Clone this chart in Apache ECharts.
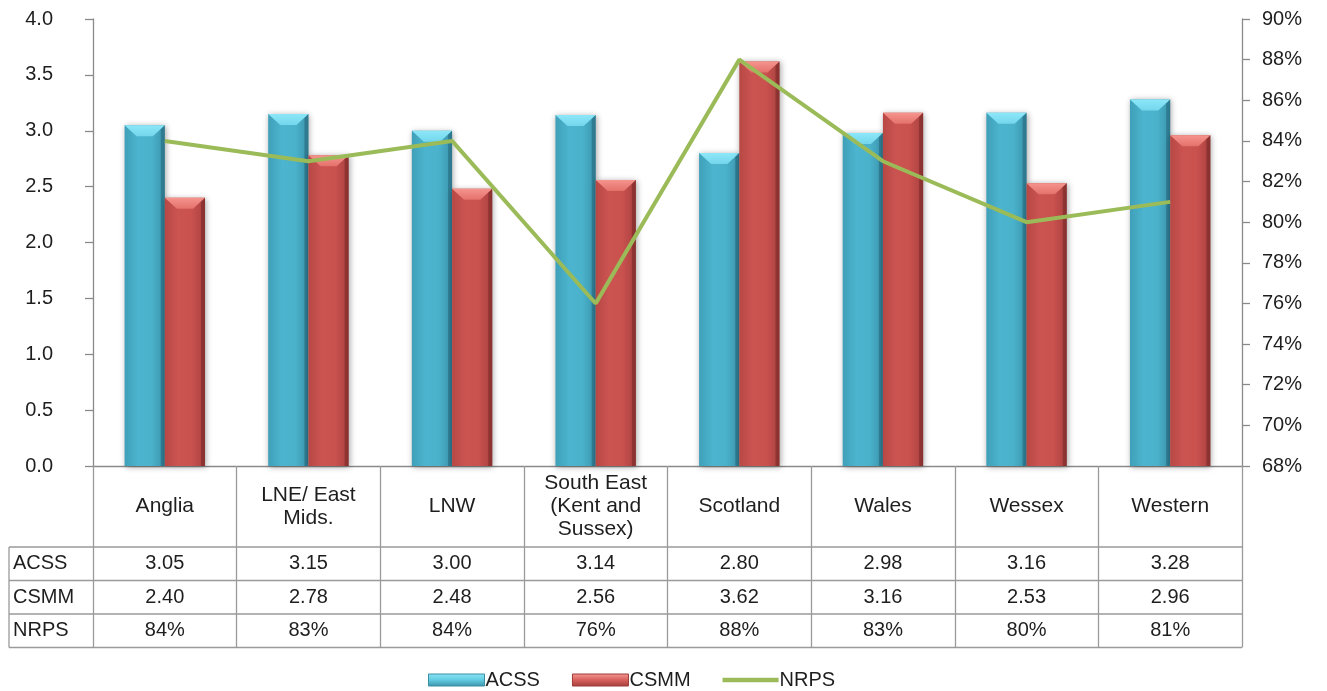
<!DOCTYPE html>
<html>
<head>
<meta charset="utf-8">
<script src="https://cdn.jsdelivr.net/npm/echarts@6/dist/echarts.min.js"></script>
<style>
  html, body { margin: 0; padding: 0; background: #fff; }
  #chart { width: 1327px; height: 691px; }
</style>
</head>
<body>
<div id="chart"></div>
<script>
// Regional scores: two bar measures (left axis) and a percentage line (right axis)
const categories = ['Anglia', 'LNE/ East\nMids.', 'LNW', 'South East\n(Kent and\nSussex)', 'Scotland', 'Wales', 'Wessex', 'Western'];
const acss = [3.05, 3.15, 3.00, 3.14, 2.80, 2.98, 3.16, 3.28];
const csmm = [2.40, 2.78, 2.48, 2.56, 3.62, 3.16, 2.53, 2.96];
const nrps = [84, 83, 84, 76, 88, 83, 80, 81];
const rowNames = ['ACSS', 'CSMM', 'NRPS'];

// Layout
const W = 1327, H = 691;
const PLOT_LEFT = 93, PLOT_RIGHT = 1242, PLOT_TOP = 19, PLOT_BOTTOM = 466;
const TABLE_LEFT = 9;
const HEADER_H = 81;          // category-name row
const ROW_H = 33.5;           // data rows
const BAR_RATIO = 0.28;       // bar width as a share of the category band
const FONT = '"Liberation Sans", Arial, sans-serif';
const FONT_SIZE = 20;
const TEXT = '#1e1e1e';
const GRID_LINE = '#9a9a9a';

const rowTops = [0, 1, 2, 3].map(i => PLOT_BOTTOM + HEADER_H + i * ROW_H);
const rowCenterOffset = i => HEADER_H + ROW_H * (i + 0.5);

function grad(x2, y2, stops) {
  return new echarts.graphic.LinearGradient(0, 0, x2, y2, stops.map((c, i) => ({ offset: i / (stops.length - 1), color: c })));
}

// Bevelled bar drawn through the axis scales; side -1 = left of the tick, +1 = right
function bevelBar(side, body, light, edge) {
  return function (params, api) {
    const cat = api.value(0), v = api.value(1);
    const top = api.coord([cat, v]);
    const base = api.coord([cat, 0]);
    const w = api.size([1, 0])[0] * BAR_RATIO;
    const x0 = side < 0 ? top[0] - w : top[0];
    const x1 = x0 + w;
    const y0 = top[1], y1 = base[1];
    const bev = 11, inset = 12;
    return {
      type: 'group',
      children: [
        { type: 'rect', shape: { x: x0, y: y0, width: w, height: y1 - y0 },
          style: { fill: body, shadowBlur: 6, shadowColor: 'rgba(0,0,0,0.35)', shadowOffsetX: 1, shadowOffsetY: 1 } },
        { type: 'polygon', shape: { points: [[x0, y0], [x1, y0], [x1 - inset, y0 + bev], [x0 + inset, y0 + bev]] },
          style: { fill: light } },
        { type: 'polygon', shape: { points: [[x1 - 4, y0 + 4], [x1, y0], [x1, y1], [x1 - 4, y1]] },
          style: { fill: edge } }
      ]
    };
  };
}

const chart = echarts.init(document.getElementById('chart'), null, { renderer: 'canvas', width: W, height: H });

const labelBase = { fontFamily: FONT, fontSize: FONT_SIZE, color: TEXT };

const tableAxes = [acss.map(v => v.toFixed(2)), csmm.map(v => v.toFixed(2)), nrps.map(v => Math.round(v) + '%')]
  .map((texts, r) => ({
    type: 'category',
    gridIndex: 0,
    position: 'bottom',
    data: categories,
    axisLine: { show: false },
    axisTick: { show: false },
    axisLabel: Object.assign({}, labelBase, {
      interval: 0,
      margin: rowCenterOffset(r),
      verticalAlign: 'middle',
      formatter: (val, idx) => texts[idx]
    })
  }));

const graphicEls = [];
// horizontal rules of the data table
rowTops.forEach(y => {
  graphicEls.push({ type: 'line', shape: { x1: TABLE_LEFT, y1: y, x2: PLOT_RIGHT, y2: y },
    style: { stroke: GRID_LINE, lineWidth: 1.3 }, silent: true });
});
// left border of the row-name column
graphicEls.push({ type: 'line', shape: { x1: TABLE_LEFT, y1: rowTops[0], x2: TABLE_LEFT, y2: rowTops[3] },
  style: { stroke: GRID_LINE, lineWidth: 1.3 }, silent: true });
// row names
rowNames.forEach((name, i) => {
  graphicEls.push({ type: 'text', x: TABLE_LEFT + 4, y: rowTops[i] + ROW_H / 2,
    style: { text: name, font: FONT_SIZE + 'px ' + FONT, fill: TEXT, verticalAlign: 'middle', align: 'left' }, silent: true });
});

const option = {
  backgroundColor: '#fff',
  animation: false,
  grid: { left: PLOT_LEFT, right: W - PLOT_RIGHT, top: PLOT_TOP, bottom: H - PLOT_BOTTOM, containLabel: false },
  legend: {
    left: 423, top: 665,
    itemWidth: 56, itemHeight: 12, itemGap: 32,
    textStyle: { fontFamily: FONT, fontSize: FONT_SIZE, color: TEXT, padding: [0, 0, 0, -4] },
    data: [
      { name: 'ACSS', icon: 'rect', itemStyle: { color: grad(0, 1, ['#8be6f7', '#62cbe0', '#3a93aa']), borderColor: '#3d8ea3', borderWidth: 1 } },
      { name: 'CSMM', icon: 'rect', itemStyle: { color: grad(0, 1, ['#f49a94', '#d8605c', '#a23f3c']), borderColor: '#9c3c39', borderWidth: 1 } },
      // thin stroke centred in the icon box; the move-to points fix the box height
      { name: 'NRPS', icon: 'path://M0,0 M0,12 M0,3.5 L60,3.5 L60,8.5 L0,8.5 Z', itemStyle: { color: '#9bbb59' } }
    ]
  },
  xAxis: [{
    type: 'category',
    data: categories,
    axisLine: { show: true, lineStyle: { color: '#8a8a8a', width: 1.3 } },
    axisTick: { show: true, interval: 0, alignWithLabel: false, length: HEADER_H + ROW_H * 3, lineStyle: { color: GRID_LINE, width: 1.3 } },
    axisLabel: Object.assign({}, labelBase, { fontSize: 21, interval: 0, margin: HEADER_H / 2, verticalAlign: 'middle', lineHeight: 23, align: 'center' }),
    splitLine: { show: false }
  }].concat(tableAxes),
  yAxis: [{
    type: 'value', min: 0, max: 4, interval: 0.5,
    axisLine: { show: true, lineStyle: { color: '#8a8a8a', width: 1.3 } },
    axisTick: { show: true, length: 8, lineStyle: { color: '#8a8a8a', width: 1.3 } },
    axisLabel: Object.assign({}, labelBase, { margin: 40, formatter: v => v.toFixed(1) }),
    splitLine: { show: false }
  }, {
    type: 'value', min: 68, max: 90, interval: 2, position: 'right',
    axisLine: { show: true, lineStyle: { color: '#8a8a8a', width: 1.3 } },
    axisTick: { show: true, length: 8, lineStyle: { color: '#8a8a8a', width: 1.3 } },
    axisLabel: Object.assign({}, labelBase, { margin: 20, formatter: v => v + '%' }),
    splitLine: { show: false }
  }],
  graphic: graphicEls,
  series: [{
    name: 'ACSS', type: 'custom', xAxisIndex: 0, yAxisIndex: 0,
    itemStyle: { color: '#4bb0ca' },
    encode: { x: 0, y: 1 },
    data: acss.map((v, i) => [i, v]),
    renderItem: bevelBar(-1, grad(1, 0, ['#3f9fb8', '#4cb4ce', '#4bb2cc', '#3a94ab']), grad(0, 1, ['#8ce7f8', '#74d6ec']), 'rgba(20,70,90,0.35)'),
    z: 2
  }, {
    name: 'CSMM', type: 'custom', xAxisIndex: 0, yAxisIndex: 0,
    itemStyle: { color: '#c9504f' },
    encode: { x: 0, y: 1 },
    data: csmm.map((v, i) => [i, v]),
    renderItem: bevelBar(1, grad(1, 0, ['#b84845', '#cb5451', '#c9514e', '#a8413f']), grad(0, 1, ['#f5948d', '#e4716b']), 'rgba(80,20,20,0.35)'),
    z: 2
  }, {
    name: 'NRPS', type: 'line', xAxisIndex: 0, yAxisIndex: 1,
    data: nrps,
    symbol: 'none',
    lineStyle: { color: '#9bbb59', width: 4 },
    itemStyle: { color: '#9bbb59' },
    z: 5
  }]
};

chart.setOption(option);
</script>
</body>
</html>
